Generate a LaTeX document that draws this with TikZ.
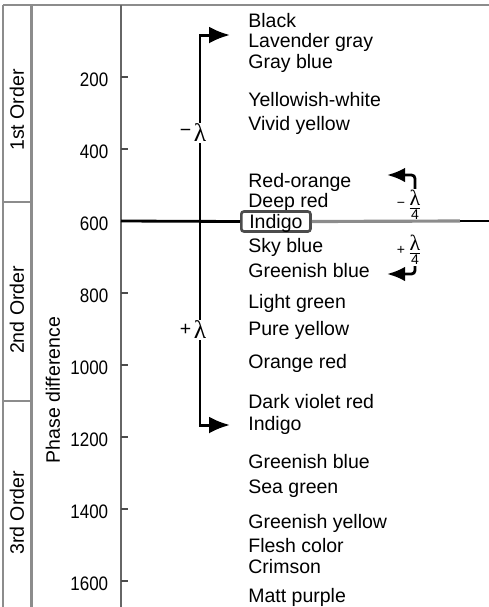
\documentclass[tikz,border=0pt]{standalone}
\usepackage{fontspec}
\setmainfont{Liberation Sans}
\newfontfamily\grk{Liberation Serif}
\usepackage{tikz}
\usetikzlibrary{arrows.meta}
\newcommand{\fsz}{\fontsize{11.1}{13}\selectfont}
\newcommand{\lam}{{\grk\fontsize{14.5}{16}\selectfont λ}}
\newcommand{\lamq}{{\grk\fontsize{12.5}{13}\selectfont λ}}
\tikzset{
  frm/.style={draw=black!45,line width=1.5pt},
  ax/.style={draw=black!60,line width=1.3pt},
  tk/.style={draw=black!70,line width=1.1pt},
  num/.style={anchor=east,inner sep=0pt,font=\fsz,xscale=0.87},
  ord/.style={rotate=90,inner sep=0pt,font=\fsz},
  col/.style={anchor=base west,inner sep=0pt,font=\fsz},
  hl/.style={anchor=base west,draw=black!70,line width=1.5pt,rounded corners=1.5pt,
    inner xsep=0.16cm,inner ysep=0.06cm,text height=0.28cm,text depth=0pt,font=\fsz},
  lam/.style={inner sep=0.5pt,font=\fsz},
  frc/.style={inner sep=0.5pt,font=\fsz},
  sgn/.style={inner sep=0.5pt,font=\footnotesize},
  ln/.style={draw=black,line width=1.6pt},
  lng/.style={draw=black!45,line width=1.8pt},
  big/.style={-{Latex[length=4.2mm,width=3.4mm]},line width=1.7pt,draw=black},
  sml/.style={-{Latex[length=3.6mm,width=2.9mm]},line width=1.6pt,draw=black,rounded corners=2pt},
}

\begin{document}
\begin{tikzpicture}
\useasboundingbox (0,0) rectangle (9.78,-12.14);
% ---- frame and order column
\draw[frm] (0.06,-0.10) -- (9.78,-0.10);
\draw[frm] (0.06,-0.10) -- (0.06,-12.14) (0.63,-0.10) -- (0.63,-12.14);
\draw[frm] (0.06,-4.04) -- (0.63,-4.04) (0.06,-8.02) -- (0.63,-8.02);
\node[ord] (o1) at (0.34,-2.20) {1st Order};
\node[ord] (o2) at (0.34,-6.20) {2nd Order};
\node[ord] (o3) at (0.34,-10.26) {3rd Order};
\node[ord] (pd) at (1.06,-7.80) {Phase difference};
% ---- axis
\draw[ax] (2.42,-0.10) -- (2.42,-12.14);
\foreach \v in {200,400,...,1600}{
  \draw[tk] (2.42,{-0.1-0.0072*\v}) -- (2.56,{-0.1-0.0072*\v});
  \node[num] at (2.17,{-0.16-0.0072*\v}) {\v};
}
% ---- interference colours
\node[col] (c1) at (4.96,-0.54) {Black};
\node[col] (c2) at (4.96,-0.94) {Lavender gray};
\node[col] (c3) at (4.96,-1.36) {Gray blue};
\node[col] (c4) at (4.96,-2.12) {Yellowish-white};
\node[col] (c5) at (4.96,-2.60) {Vivid yellow};
\node[col] (c6) at (4.96,-3.74) {Red-orange};
\node[col] (c7) at (4.96,-4.15) {Deep red};
\node[hl]  (c8) at (4.80,-4.57) {Indigo};
\node[col] (c9) at (4.96,-5.04) {Sky blue};
\node[col] (c10) at (4.96,-5.54) {Greenish blue};
\node[col] (c11) at (4.96,-6.17) {Light green};
\node[col] (c12) at (4.96,-6.70) {Pure yellow};
\node[col] (c13) at (4.96,-7.37) {Orange red};
\node[col] (c14) at (4.96,-8.17) {Dark violet red};
\node[col] (c15) at (4.96,-8.60) {Indigo};
\node[col] (c16) at (4.96,-9.37) {Greenish blue};
\node[col] (c17) at (4.96,-9.87) {Sea green};
\node[col] (c18) at (4.96,-10.57) {Greenish yellow};
\node[col] (c19) at (4.96,-11.04) {Flesh color};
\node[col] (c20) at (4.96,-11.47) {Crimson};
\node[col] (c21) at (4.96,-12.04) {Matt purple};
% ---- reference line through the first-order red
\coordinate (o) at (2.42,-4.42);
\coordinate (r1) at (9.20,-4.42); \coordinate (r2) at (9.78,-4.42);
\draw[ln] (o) -- (c8.west);
\draw[lng] (c8.east) -- (r1);
\draw[ln] (r1) -- (r2);
% ---- full-wave plate
\node[lam,label={[lam]left:−}] (lm) at (4.00,-2.66) {\lam};
\node[lam,label={[lam]left:+}] (lp) at (4.00,-6.60) {\lam};
\coordinate (t1) at (4.60,-0.70); \coordinate (t2) at (4.60,-8.50);
\draw[big] (lm.north) |- (t1);
\draw[ln] (lm.south) -- (lp.north);
\draw[big] (lp.south) |- (t2);
% ---- quarter-wave plate
\node[frc,label={[sgn]left:−}] (qm) at (8.30,-4.10) {$\frac{\mbox{\lamq}}{\mbox{\footnotesize 4}}$};
\node[frc,label={[sgn]left:+}] (qp) at (8.30,-5.00) {$\frac{\mbox{\lamq}}{\mbox{\footnotesize 4}}$};
\coordinate (q1) at (7.74,-3.50); \coordinate (q2) at (7.74,-5.48);
\draw[sml] (qm.north) |- (q1);
\draw[sml] (qp.south) |- (q2);
\end{tikzpicture}
\end{document}
